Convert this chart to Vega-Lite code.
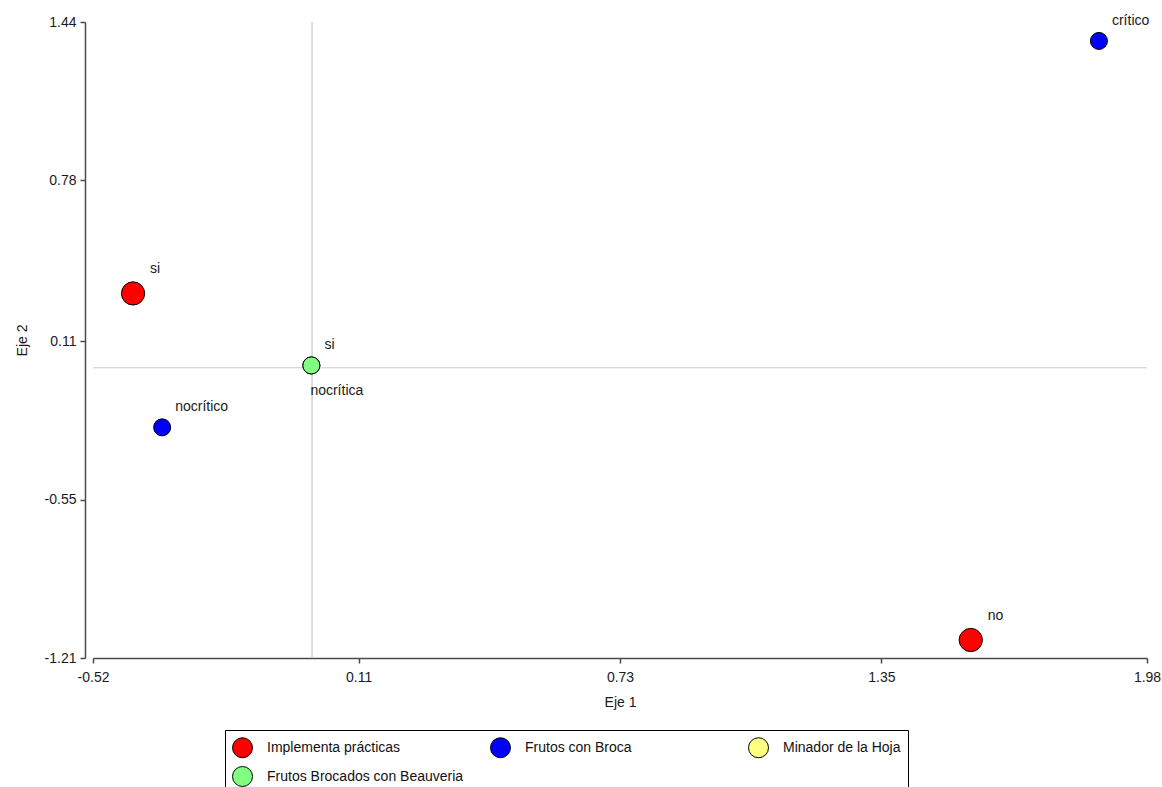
{
  "$schema": "https://vega.github.io/schema/vega-lite/v6.json",
  "autosize": "none",
  "width": 1054,
  "height": 636,
  "padding": {"left": 93, "top": 22, "right": 15, "bottom": 129},
  "background": "white",
  "config": {
    "view": {"stroke": null},
    "font": "Liberation Sans",
    "axis": {
      "grid": false,
      "domainColor": "#4a4a4a",
      "domainWidth": 1.5,
      "tickColor": "#4a4a4a",
      "tickWidth": 1.5,
      "tickSize": 5,
      "labelColor": "#1a1a1a",
      "labelFontSize": 14,
      "labelFont": "Liberation Sans",
      "labelFlush": false,
      "labelOverlap": false,
      "titleFont": "Liberation Sans",
      "titleFontSize": 14,
      "titleFontWeight": "normal",
      "titleColor": "#1a1a1a"
    }
  },
  "data": {
    "values": [
      {"serie": "Implementa prácticas", "etiqueta": "si", "eje1": -0.425, "eje2": 0.309},
      {"serie": "Implementa prácticas", "etiqueta": "no", "eje1": 1.562, "eje2": -1.135},
      {"serie": "Frutos con Broca", "etiqueta": "nocrítico", "eje1": -0.356, "eje2": -0.249},
      {"serie": "Frutos con Broca", "etiqueta": "crítico", "eje1": 1.866, "eje2": 1.361},
      {"serie": "Frutos Brocados con Beauveria", "etiqueta": "si", "eje1": -0.002, "eje2": 0.009},
      {"serie": "Frutos Brocados con Beauveria", "etiqueta": "nocrítica", "eje1": -0.002, "eje2": 0.009}
    ]
  },
  "encoding": {
    "x": {
      "field": "eje1", "type": "quantitative", "title": "Eje 1",
      "scale": {"domain": [-0.52, 1.98], "nice": false, "zero": false},
      "axis": {
        "values": [-0.52, 0.11, 0.73, 1.35, 1.98],
        "labelExpr": "replace(format(datum.value, '.2f'), '\u2212', '-')",
        "titlePadding": 11, "labelPadding": 7
      }
    },
    "y": {
      "field": "eje2", "type": "quantitative", "title": "Eje 2",
      "scale": {"domain": [-1.21, 1.44], "nice": false, "zero": false},
      "axis": {
        "values": [-1.21, -0.55, 0.11, 0.78, 1.44],
        "labelExpr": "replace(format(datum.value, '.2f'), '\u2212', '-')",
        "offset": 8, "titlePadding": 15, "labelPadding": 4
      }
    }
  },
  "layer": [
    {
      "mark": {"type": "rule", "color": "#d9d9d9", "strokeWidth": 1},
      "encoding": {"x": {"datum": 0}, "y": null}
    },
    {
      "mark": {"type": "rule", "color": "#d9d9d9", "strokeWidth": 1},
      "encoding": {"y": {"datum": 0}, "x": null}
    },
    {
      "mark": {"type": "point", "shape": "circle", "filled": true, "stroke": "black", "strokeWidth": 1, "opacity": 1},
      "encoding": {
        "color": {
          "field": "serie", "type": "nominal",
          "scale": {
            "domain": ["Implementa prácticas", "Frutos con Broca", "Minador de la Hoja", "Frutos Brocados con Beauveria"],
            "range": ["#ff0000", "#0000ff", "#ffff80", "#80ff80"]
          },
          "legend": {
            "title": null,
            "orient": "none",
            "legendX": 132,
            "legendY": 708,
            "direction": "horizontal",
            "columns": 3,
            "gridAlign": "all",
            "columnPadding": 24,
            "rowPadding": 4,
            "padding": 7,
            "strokeColor": "black",
            "symbolType": "circle",
            "symbolSize": 400,
            "symbolStrokeColor": "black",
            "symbolStrokeWidth": 1,
            "symbolOpacity": 1,
            "labelFontSize": 14,
            "labelColor": "#111111",
            "labelOffset": 14,
            "labelLimit": 300,
            "fillColor": "white"
          }
        },
        "size": {
          "condition": {"test": "datum.serie === 'Implementa prácticas'", "value": 540},
          "value": 290
        }
      }
    },
    {
      "transform": [{"filter": "datum.serie === 'Implementa prácticas'"}],
      "mark": {"type": "text", "align": "left", "baseline": "middle", "dx": 17, "dy": -24, "fontSize": 14, "color": "#1a1a1a"},
      "encoding": {"text": {"field": "etiqueta"}}
    },
    {
      "transform": [{"filter": "datum.serie !== 'Implementa prácticas' && datum.etiqueta !== 'nocrítica'"}],
      "mark": {"type": "text", "align": "left", "baseline": "middle", "dx": 13, "dy": -20, "fontSize": 14, "color": "#1a1a1a"},
      "encoding": {"text": {"field": "etiqueta"}}
    },
    {
      "transform": [{"filter": "datum.etiqueta === 'nocrítica'"}],
      "mark": {"type": "text", "align": "left", "baseline": "middle", "dx": -1, "dy": 26, "fontSize": 14, "color": "#1a1a1a"},
      "encoding": {"text": {"field": "etiqueta"}}
    }
  ]
}
